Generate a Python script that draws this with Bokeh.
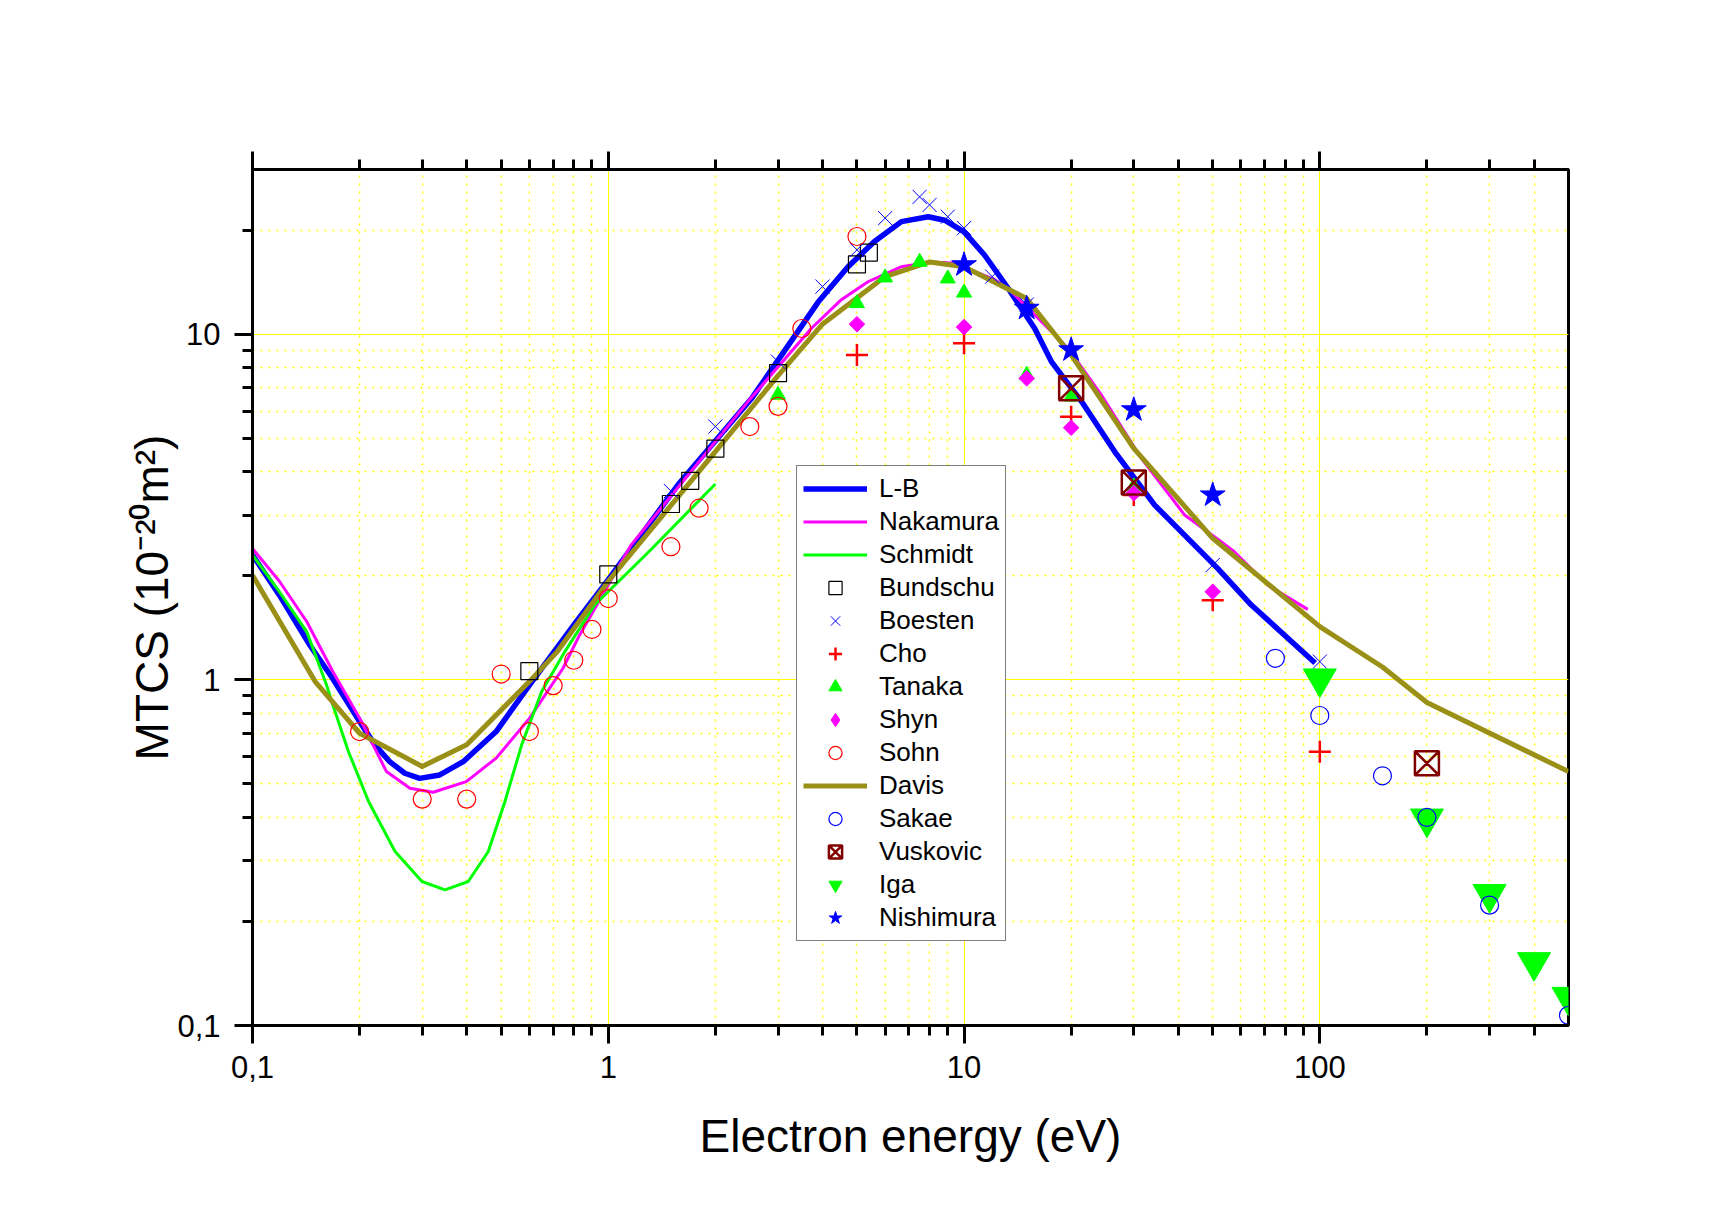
import numpy as np
from bokeh.plotting import figure
from bokeh.models import (Range1d, FixedTicker, LogAxis, CustomJSTickFormatter,
                          Legend, LegendItem)
from bokeh.embed import file_html
from bokeh.resources import INLINE

# ---------------- data ----------------
lb_e = [0.1, 0.119, 0.145, 0.168, 0.2, 0.2207, 0.243, 0.268, 0.295, 0.336, 0.391, 0.484,
        0.601, 0.813, 1.0, 1.57, 2.53, 3.89, 4.72, 5.61, 6.67, 7.93, 8.82, 10.0, 11.4,
        13.3, 15.8, 17.6, 21.4, 26.5, 34.3, 51.7, 64.1, 97.0]
lb_s = [2.30, 1.76, 1.26, 1.01, 0.758, 0.649, 0.580, 0.537, 0.519, 0.531, 0.580, 0.709,
        0.968, 1.476, 1.95, 3.67, 6.53, 12.4, 15.7, 18.6, 21.2, 21.9, 21.4, 19.8, 17.0,
        13.6, 10.4, 8.34, 6.39, 4.58, 3.21, 2.10, 1.65, 1.12]

nak_e = [0.1, 0.119, 0.142, 0.168, 0.2, 0.238, 0.277, 0.322, 0.399, 0.484, 0.601, 0.746,
         0.831, 1.16, 2.47, 3.72, 4.52, 5.37, 6.67, 8.09, 9.41, 12.2, 13.6, 19.6, 24.3,
         31.5, 41.7, 52.8, 57.5, 71.5, 92.5]
nak_s = [2.40, 1.93, 1.476, 1.06, 0.775, 0.543, 0.486, 0.473, 0.508, 0.594, 0.775, 1.081,
         1.35, 2.46, 6.39, 10.4, 12.6, 14.2, 15.7, 16.2, 16.06, 14.4, 13.3, 9.12, 6.68,
         4.38, 3.00, 2.51, 2.35, 1.88, 1.60]

sch_e = [0.1, 0.119, 0.142, 0.1614, 0.167, 0.186, 0.212, 0.2516, 0.2995, 0.3475, 0.404,
         0.46, 0.5123, 0.571, 0.65, 0.755, 0.917, 1.30, 2.0]
sch_s = [2.30, 1.80, 1.38, 0.968, 0.866, 0.621, 0.445, 0.3188, 0.261, 0.247, 0.261,
         0.3188, 0.445, 0.649, 0.926, 1.208, 1.65, 2.35, 3.69]

dav_e = [0.1, 0.15, 0.2, 0.3, 0.4, 0.6, 0.72, 1, 2, 3, 4, 6, 8, 10, 15, 20, 30, 50,
         100, 150, 200, 500]
dav_s = [2.01, 0.989, 0.701, 0.562, 0.649, 0.989, 1.21, 1.93, 4.58, 7.6, 10.7, 14.7,
         16.2, 15.7, 12.7, 8.72, 4.68, 2.57, 1.427, 1.09, 0.86, 0.543]

bun_e = [0.6, 1.0, 1.5, 1.7, 2.0, 3.0, 5.0, 5.4]
bun_s = [1.06, 2.02, 3.23, 3.77, 4.67, 7.72, 15.95, 17.25]

boe_e = [1.5, 2, 3, 4, 5, 6, 7.5, 8, 9, 10, 12, 15, 30, 50, 100]
boe_s = [3.52, 5.41, 8.34, 13.75, 17.56, 21.7, 25.0, 23.7, 21.9, 20.3, 14.7, 12.2,
         3.75, 2.15, 1.13]

cho_e = [5, 10, 20, 30, 50, 100]
cho_s = [8.72, 9.43, 5.78, 3.43, 1.70, 0.62]

tan_e = [3, 5, 6, 7.5, 9, 10, 15, 20, 30]
tan_s = [6.68, 12.3, 14.6, 16.2, 14.5, 13.2, 7.63, 6.6, 3.63]

shy_e = [5, 10, 15, 20, 30, 50]
shy_s = [10.7, 10.5, 7.46, 5.37, 3.47, 1.80]

soh_e = [0.2, 0.3, 0.4, 0.5, 0.6, 0.7, 0.8, 0.9, 1, 1.5, 1.8, 2.5, 3, 3.5, 5]
soh_s = [0.709, 0.452, 0.452, 1.04, 0.709, 0.963, 1.14, 1.40, 1.72, 2.43, 3.14, 5.41,
         6.19, 10.4, 19.2]

sak_e = [75, 100, 150, 200, 300, 500]
sak_s = [1.155, 0.789, 0.528, 0.40, 0.223, 0.107]

vus_e = [20, 30, 200]
vus_s = [6.98, 3.73, 0.574]

iga_e = [100, 200, 300, 400, 500]
iga_s = [1.01, 0.397, 0.24, 0.1525, 0.121]

nis_e = [10, 15, 20, 30, 50]
nis_s = [15.9, 11.9, 9.02, 6.05, 3.43]

x_major = [0.1, 1, 10, 100]
x_minor = [0.2, 0.3, 0.4, 0.5, 0.6, 0.7, 0.8, 0.9, 2, 3, 4, 5, 6, 7, 8, 9,
           20, 30, 40, 50, 60, 70, 80, 90, 200, 300, 400]
y_major = [0.1, 1, 10]
y_minor = [0.2, 0.3, 0.4, 0.5, 0.6, 0.7, 0.8, 0.9, 2, 3, 4, 5, 6, 7, 8, 9, 20]

FONT = "Liberation Sans"
BLUE = "#0000FF"
MAG = "#FF00FF"
GREEN = "#00FF00"
RED = "#FF0000"
OLIVE = "#9A8F17"
DRED = "#800000"
YEL = "#FFFF00"

p = figure(width=1700, height=1190, x_axis_type="log", y_axis_type="log",
           x_range=Range1d(0.1, 500), y_range=Range1d(0.1, 30),
           output_backend="svg", toolbar_location=None,
           min_border_left=252, min_border_right=132,
           min_border_top=169, min_border_bottom=165)
p.background_fill_color = "white"
p.border_fill_color = "white"
p.outline_line_color = "black"
p.outline_line_width = 3

xt = FixedTicker(ticks=x_major, minor_ticks=x_minor)
yt = FixedTicker(ticks=y_major, minor_ticks=y_minor)
fmt = CustomJSTickFormatter(code="return tick.toString().replace('.', ',');")

bx = p.below[0]
ly = p.left[0]
bx.ticker = xt
ly.ticker = yt
p.xgrid.ticker = xt
p.ygrid.ticker = yt
bx.formatter = fmt
ly.formatter = fmt

top = LogAxis(ticker=xt, formatter=CustomJSTickFormatter(code="return '';"))
p.add_layout(top, "above")

for ax in [bx, ly, top]:
    ax.axis_line_width = 3
    ax.axis_line_color = "black"
    ax.major_tick_line_width = 3
    ax.minor_tick_line_width = 3
    ax.major_tick_out = 18
    ax.major_tick_in = 0
    ax.minor_tick_out = 10
    ax.minor_tick_in = 0
    ax.major_label_text_font = FONT
    ax.major_label_text_font_size = "31px"
    ax.major_label_text_color = "black"

bx.major_label_standoff = 12
ly.major_label_standoff = 14
top.major_label_standoff = 0

bx.axis_label = "Electron energy (eV)"
ly.axis_label = "MTCS (10\u207b\u00b2\u2070m\u00b2)"
for ax in [bx, ly]:
    ax.axis_label_text_font = FONT
    ax.axis_label_text_font_size = "46px"
    ax.axis_label_text_font_style = "normal"
    ax.axis_label_text_color = "black"
bx.axis_label_standoff = 29
ly.axis_label_standoff = -4

p.grid.grid_line_color = YEL
p.grid.grid_line_width = 1
p.grid.minor_grid_line_color = YEL
p.grid.minor_grid_line_width = 1.5
p.grid.minor_grid_line_dash = "2 6"

# ---------------- glyphs ----------------
r_lb = p.line(lb_e, lb_s, line_color=BLUE, line_width=5.5, line_join="round")
r_nak = p.line(nak_e, nak_s, line_color=MAG, line_width=3, line_join="round")
r_sch = p.line(sch_e, sch_s, line_color=GREEN, line_width=3, line_join="round")
r_dav = p.line(dav_e, dav_s, line_color=OLIVE, line_width=5, line_join="round")

r_bun = p.scatter(bun_e, bun_s, marker="square", size=17, fill_color=None,
                  line_color="black", line_width=1.2)
r_boe = p.scatter(boe_e, boe_s, marker="x", size=20, line_color=BLUE, line_width=1)
r_cho = p.scatter(cho_e, cho_s, marker="cross", size=22, line_color=RED, line_width=2.5)
r_tan = p.scatter(tan_e, tan_s, marker="triangle", size=15, fill_color=GREEN,
                  line_color=GREEN, line_width=1)
r_shy = p.scatter(shy_e, shy_s, marker="square", angle=np.pi / 4, size=11,
                  fill_color=MAG, line_color=MAG, line_width=1)
# legend key for Shyn (a diamond); holds no visible point
r_shy_key = p.scatter([np.nan], [np.nan], marker="diamond", size=16, fill_color=MAG,
                      line_color=MAG, line_width=1)
r_soh = p.scatter(soh_e, soh_s, marker="circle", size=18, fill_color=None,
                  line_color=RED, line_width=1.2)
r_iga = p.scatter(iga_e, iga_s, marker="inverted_triangle", size=33, fill_color=GREEN,
                  line_color=GREEN, line_width=1)
r_sak = p.scatter(sak_e, sak_s, marker="circle", size=18, fill_color=None,
                  line_color=BLUE, line_width=1.2)
r_vus = p.scatter(vus_e, vus_s, marker="square_x", size=24, fill_color=None,
                  line_color=DRED, line_width=2.5)
r_nis = p.scatter(nis_e, nis_s, marker="star", size=26, fill_color=BLUE,
                  line_color=BLUE, line_width=1)

items = [
    LegendItem(label="L-B", renderers=[r_lb]),
    LegendItem(label="Nakamura", renderers=[r_nak]),
    LegendItem(label="Schmidt", renderers=[r_sch]),
    LegendItem(label="Bundschu", renderers=[r_bun]),
    LegendItem(label="Boesten", renderers=[r_boe]),
    LegendItem(label="Cho", renderers=[r_cho]),
    LegendItem(label="Tanaka", renderers=[r_tan]),
    LegendItem(label="Shyn", renderers=[r_shy_key]),
    LegendItem(label="Sohn", renderers=[r_soh]),
    LegendItem(label="Davis", renderers=[r_dav]),
    LegendItem(label="Sakae", renderers=[r_sak]),
    LegendItem(label="Vuskovic", renderers=[r_vus]),
    LegendItem(label="Iga", renderers=[r_iga]),
    LegendItem(label="Nishimura", renderers=[r_nis]),
]
legend = Legend(items=items, location=(544, 84), orientation="vertical",
                glyph_width=64, glyph_height=33, label_height=33, spacing=0,
                padding=6, margin=0, label_standoff=12,
                label_text_font=FONT, label_text_font_size="26px",
                label_text_color="black",
                border_line_color="black", border_line_width=1,
                background_fill_color="white", background_fill_alpha=1.0)
p.add_layout(legend, "center")

open("out.html", "w").write(file_html(p, INLINE))
